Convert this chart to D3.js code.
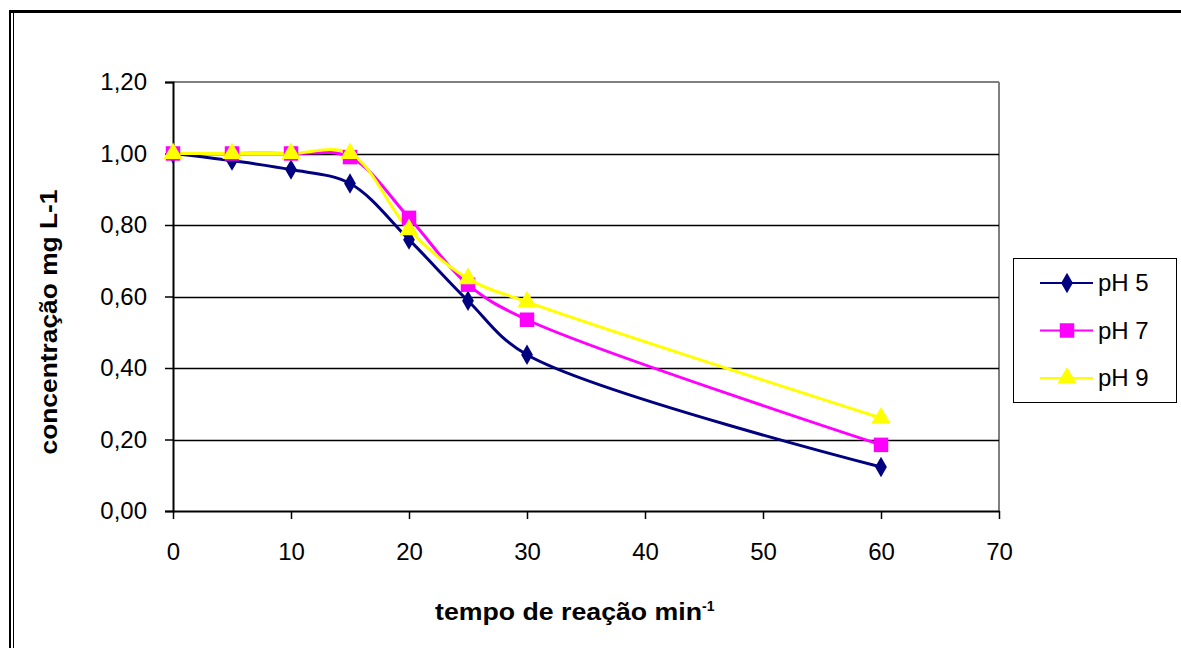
<!DOCTYPE html>
<html>
<head>
<meta charset="utf-8">
<script src="https://cdn.jsdelivr.net/npm/d3@7"></script>
<style>
  body { margin: 0; background: #fff; }
  text { font-family: "Liberation Sans", Arial, sans-serif; }
</style>
</head>
<body>
<div id="chart"></div>
<script>
// data
var times = [0, 5, 10, 15, 20, 25, 30, 60];
var ph5 = [1.00, 0.98, 0.955, 0.916, 0.759, 0.588, 0.437, 0.123];
var ph7 = [1.00, 1.00, 1.00, 0.99, 0.82, 0.633, 0.535, 0.185];
var ph9 = [1.00, 1.00, 1.00, 1.00, 0.787, 0.65, 0.585, 0.26];
var seriesNames = ["pH 5", "pH 7", "pH 9"];
var seriesColors = ["#000080", "#ff00ff", "#ffff00"];
var yTicks = [0, 0.2, 0.4, 0.6, 0.8, 1.0, 1.2];
var xTicks = [0, 10, 20, 30, 40, 50, 60, 70];

var width = 1181, height = 648;
var margin = { left: 173, right: 182, top: 82, bottom: 137 };

var svg = d3.select("#chart").append("svg")
  .attr("width", width)
  .attr("height", height);

// outer frame
svg.append("line").attr("x1", 9).attr("x2", width).attr("y1", 11.5).attr("y2", 11.5)
  .attr("stroke", "#000").attr("stroke-width", 3);
svg.append("line").attr("x1", 10).attr("x2", 10).attr("y1", 10).attr("y2", height)
  .attr("stroke", "#000").attr("stroke-width", 2);
svg.append("line").attr("x1", 13.5).attr("x2", 13.5).attr("y1", 13).attr("y2", height)
  .attr("stroke", "#000").attr("stroke-width", 1);

var x = d3.scaleLinear().domain([0, 70]).range([margin.left, width - margin.right]);
var y = d3.scaleLinear().domain([0, 1.2]).range([height - margin.bottom, margin.top]);

// plot area border (gray top and right)
svg.append("line").attr("x1", x(0)).attr("x2", x(70)).attr("y1", y(1.2)).attr("y2", y(1.2))
  .attr("stroke", "#808080").attr("stroke-width", 2);
svg.append("line").attr("x1", x(70)).attr("x2", x(70)).attr("y1", y(1.2)).attr("y2", y(0))
  .attr("stroke", "#808080").attr("stroke-width", 2);

// gridlines
svg.append("g").selectAll("line")
  .data(yTicks.filter(function (d) { return d > 0 && d < 1.2; }))
  .enter().append("line")
  .attr("x1", x(0)).attr("x2", x(70))
  .attr("y1", function (d) { return Math.round(y(d)) + 0.5; })
  .attr("y2", function (d) { return Math.round(y(d)) + 0.5; })
  .attr("stroke", "#000").attr("stroke-width", 1.5);

var fmt = function (d) { return d3.format(".2f")(d).replace(".", ","); };

// y axis
var yAxis = svg.append("g")
  .attr("transform", "translate(" + x(0) + ",0)")
  .call(d3.axisLeft(y).tickValues(yTicks).tickFormat(fmt).tickSize(8).tickPadding(18));
yAxis.select(".domain").attr("stroke-width", 2);
yAxis.selectAll("line").attr("stroke-width", 1.5);
yAxis.selectAll("text").style("font-size", "24px").attr("fill", "#000");

// x axis
var xAxis = svg.append("g")
  .attr("transform", "translate(0," + y(0) + ")")
  .call(d3.axisBottom(x).tickValues(xTicks).tickSize(8).tickSizeOuter(0).tickPadding(24));
xAxis.select(".domain").attr("stroke-width", 2);
xAxis.selectAll("line").attr("stroke-width", 1.5);
xAxis.selectAll("text").style("font-size", "24px").attr("fill", "#000");

// axis titles
var xt = svg.append("text")
  .attr("x", 435).attr("y", 620)
  .style("font-size", "23px").style("font-weight", "bold");
xt.append("tspan").attr("textLength", 267).attr("lengthAdjust", "spacingAndGlyphs").text("tempo de reação min");
xt.append("tspan").attr("dy", -9).style("font-size", "14px").text("-1");

svg.append("text")
  .attr("transform", "translate(57,322) rotate(-90)")
  .attr("text-anchor", "middle")
  .attr("textLength", 265).attr("lengthAdjust", "spacingAndGlyphs")
  .style("font-size", "23px").style("font-weight", "bold")
  .text("concentração mg L-1");

// series
var allSeries = [ph5, ph7, ph9];
var line = d3.line()
  .x(function (d, i) { return x(times[i]); })
  .y(function (d) { return y(d); })
  .curve(d3.curveCatmullRom.alpha(0.5));

var symbols = [
  d3.symbol().type(d3.symbolDiamond).size(120),
  d3.symbol().type(d3.symbolSquare).size(210),
  d3.symbol().type(d3.symbolTriangle).size(160)
];

allSeries.forEach(function (vals, k) {
  svg.append("path")
    .datum(vals)
    .attr("fill", "none")
    .attr("stroke", seriesColors[k])
    .attr("stroke-width", 3)
    .attr("d", line);
});

allSeries.forEach(function (vals, k) {
  svg.append("g").selectAll("path")
    .data(vals)
    .enter().append("path")
    .attr("transform", function (d, i) { return "translate(" + x(times[i]) + "," + y(d) + ")"; })
    .attr("d", symbols[k])
    .attr("fill", seriesColors[k]);
});

// legend
var legend = svg.append("g").attr("transform", "translate(1013,258)");
legend.append("rect")
  .attr("x", 0.5).attr("y", 0.5).attr("width", 163).attr("height", 144)
  .attr("fill", "#fff").attr("stroke", "#000");
seriesNames.forEach(function (name, k) {
  var ly = 25 + k * 47.5;
  legend.append("line").attr("x1", 27).attr("x2", 80).attr("y1", ly).attr("y2", ly)
    .attr("stroke", seriesColors[k]).attr("stroke-width", 2);
  legend.append("path")
    .attr("transform", "translate(54," + ly + ")")
    .attr("d", symbols[k])
    .attr("fill", seriesColors[k]);
  legend.append("text")
    .attr("x", 85).attr("y", ly + 8)
    .style("font-size", "24px")
    .text(name);
});
</script>
</body>
</html>
